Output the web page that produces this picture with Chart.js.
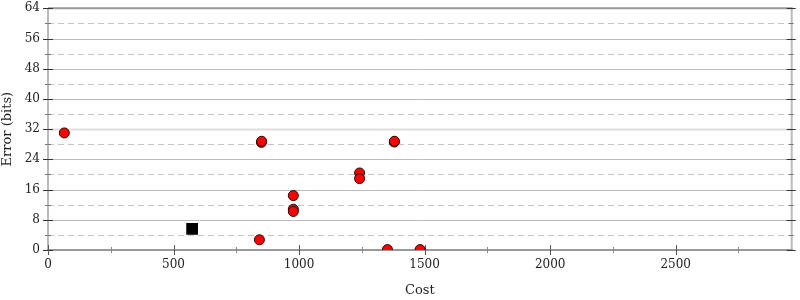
<!DOCTYPE html>
<html>
<head>
<meta charset="utf-8">
<script src="https://cdn.jsdelivr.net/npm/chart.js@4"></script>
<style>
html,body{margin:0;padding:0;background:#fff;}
#wrap{width:800px;height:300px;}
</style>
</head>
<body>
<div id="wrap"><canvas id="c" width="800" height="300"></canvas></div>
<script>
// Data
const costs = [65, 842, 850, 851, 977, 977, 977, 1241, 1241, 1352, 1379, 1380, 1482];
const errors = [31.0, 2.7, 28.5, 28.8, 14.4, 10.8, 10.2, 20.4, 18.9, 0.1, 28.6, 28.8, 0.1];
const refCost = [574];
const refError = [5.6];
const xTicks = [0, 500, 1000, 1500, 2000, 2500];
const yTicks = [0, 8, 16, 24, 32, 40, 48, 56, 64];
const xMax = 2962;

const redPoints = costs.map((c, i) => ({x: c, y: errors[i]}));
const blackPoints = refCost.map((c, i) => ({x: c, y: refError[i]}));

const FONT = "'DejaVu Serif', serif";

const framePlugin = {
  id: 'frame',
  beforeDatasetsDraw(chart) {
    const ctx = chart.ctx;
    const xs = chart.scales.x, ys = chart.scales.y;
    const L = xs.left, R = xs.right, T = ys.top, B = ys.bottom;
    ctx.save();
    for (let v = 4; v < 64; v += 4) {
      const y = Math.round(ys.getPixelForValue(v)) + 0.5;
      ctx.beginPath();
      if (v % 8 === 0) {
        ctx.setLineDash([]);
        ctx.strokeStyle = v === 32 ? '#dddddd' : '#bbbbbb';
        ctx.lineWidth = v === 32 ? 2 : 1;
      } else {
        ctx.setLineDash([6, 4]);
        ctx.strokeStyle = '#c4c4c4';
        ctx.lineWidth = 1;
      }
      ctx.moveTo(L, y); ctx.lineTo(R, y); ctx.stroke();
    }
    ctx.setLineDash([]);
    ctx.lineWidth = 2;
    ctx.strokeStyle = '#bbbbbb';
    ctx.beginPath(); ctx.moveTo(L, T); ctx.lineTo(L, B); ctx.stroke();
    ctx.beginPath(); ctx.moveTo(R, T); ctx.lineTo(R, B); ctx.stroke();
    ctx.strokeStyle = '#999999';
    ctx.beginPath(); ctx.moveTo(L, T); ctx.lineTo(R + 1, T); ctx.stroke();
    ctx.beginPath(); ctx.moveTo(L - 1, B); ctx.lineTo(R + 1, B); ctx.stroke();
    ctx.lineWidth = 1;
    for (let v = 0; v <= 64; v += 4) {
      const y = Math.round(ys.getPixelForValue(v)) + 0.5;
      const major = v % 8 === 0;
      ctx.strokeStyle = major ? '#333333' : '#777777';
      const a = major ? 5 : 3;
      ctx.beginPath(); ctx.moveTo(L - a, y); ctx.lineTo(L + a, y); ctx.stroke();
      ctx.beginPath(); ctx.moveTo(R - a, y); ctx.lineTo(R + a - 1, y); ctx.stroke();
    }
    for (let v = 0; v <= xMax; v += 250) {
      const x = Math.round(xs.getPixelForValue(v)) + 0.5;
      const major = v % 500 === 0;
      ctx.strokeStyle = major ? '#555555' : '#888888';
      const a = major ? 5 : 3;
      ctx.beginPath(); ctx.moveTo(x, B - a); ctx.lineTo(x, B + a); ctx.stroke();
    }
    ctx.restore();
  }
};

new Chart(document.getElementById('c'), {
  type: 'scatter',
  data: {
    datasets: [
      {
        data: blackPoints,
        pointStyle: 'rect',
        pointRadius: 8.3,
        backgroundColor: '#000000',
        borderColor: '#000000',
        borderWidth: 0
      },
      {
        data: redPoints,
        pointStyle: 'circle',
        pointRadius: 5,
        backgroundColor: '#ff0000',
        borderColor: '#2a0000',
        borderWidth: 1
      }
    ]
  },
  options: {
    responsive: false,
    animation: false,
    devicePixelRatio: 1,
    layout: {padding: {left: 0, right: 6, top: 0, bottom: 0}},
    plugins: {legend: {display: false}, tooltip: {enabled: false}},
    scales: {
      x: {
        type: 'linear',
        min: 0, max: xMax,
        afterBuildTicks: s => { s.ticks = xTicks.map(v => ({value: v})); },
        afterFit: s => { s.height = 50; },
        grid: {display: false, drawTicks: false},
        border: {display: false},
        ticks: {padding: 8, color: '#222', font: {family: FONT, size: 12}, maxRotation: 0, callback: v => String(v)},
        title: {display: true, text: 'Cost', color: '#222', font: {family: FONT, size: 13}, padding: {top: 0, bottom: 2}}
      },
      y: {
        type: 'linear',
        min: 0, max: 64,
        afterBuildTicks: s => { s.ticks = yTicks.map(v => ({value: v})); },
        afterFit: s => { s.width = 48; s.paddingTop = 7; },
        grid: {display: false, drawTicks: false},
        border: {display: false},
        ticks: {padding: 8, color: '#222', font: {family: FONT, size: 12}, callback: v => String(v)},
        title: {display: true, text: 'Error (bits)', color: '#222', font: {family: FONT, size: 13}, padding: {top: 0, bottom: 0}}
      }
    }
  },
  plugins: [framePlugin]
});
</script>
</body>
</html>
